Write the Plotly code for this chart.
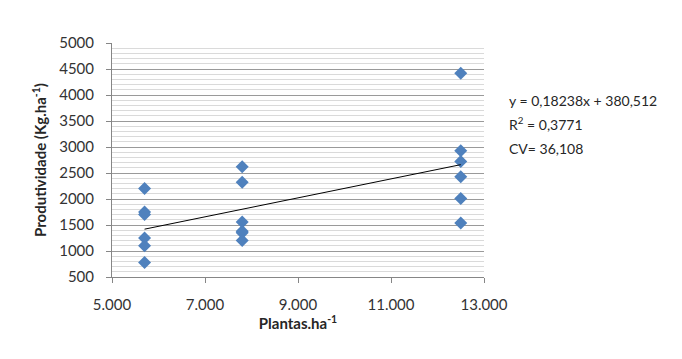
import plotly.graph_objects as go

plantas = [5700]*6 + [7800]*6 + [12500]*6
produtividade = [2200, 1750, 1700, 1250, 1100, 780,
                 2620, 2320, 1560, 1380, 1350, 1200,
                 4420, 2930, 2720, 2430, 2010, 1540]
slope = 0.18238
intercept = 380.512
eq_lines = ["y = 0,18238x + 380,512", "R<sup>2</sup> = 0,3771", "CV= 36,108"]
x_ticks = [5000, 7000, 9000, 11000, 13000]
x_ticktext = ["5.000", "7.000", "9.000", "11.000", "13.000"]

font = "Lato, 'Open Sans', sans-serif"

fig = go.Figure()
fig.add_trace(go.Scatter(
    x=plantas, y=produtividade, mode="markers",
    marker=dict(symbol="diamond", size=10, color="#4F81BD",
                line=dict(width=0)),
    showlegend=False))
xmin, xmax = min(plantas), max(plantas)
fig.add_trace(go.Scatter(
    x=[xmin, xmax], y=[slope*xmin + intercept, slope*xmax + intercept],
    mode="lines", line=dict(color="black", width=1), showlegend=False))

ys = [0.756, 0.654, 0.551]
for t, yy in zip(eq_lines, ys):
    fig.add_annotation(text=t, xref="paper", yref="paper",
                       x=1.062, y=yy, xanchor="left", yanchor="middle",
                       showarrow=False, font=dict(family=font, size=14, color="#262626"))

fig.update_layout(
    width=682, height=359,
    margin=dict(l=112, r=198, t=43, b=82),
    paper_bgcolor="white", plot_bgcolor="white",
    font=dict(family=font, size=15, color="#333"),
    xaxis=dict(range=[5000, 13000], tickvals=x_ticks, ticktext=x_ticktext,
               showgrid=False, zeroline=False, showline=True, linecolor="#868686",
               ticks="outside", ticklen=5, tickcolor="#868686", automargin=False,
               ticklabelstandoff=9,
               title=dict(text="<b>Plantas.ha<sup>-1</sup></b>", standoff=4,
                          font=dict(size=15, color="#262626"))),
    yaxis=dict(range=[500, 5000], dtick=500, tick0=500,
               showgrid=True, gridcolor="#9a9a9a", gridwidth=1,
               zeroline=False, showline=True, linecolor="#868686",
               ticks="outside", ticklen=5, tickcolor="#868686", automargin=False,
               ticklabelstandoff=9,
               minor=dict(dtick=100, showgrid=True, gridcolor="#dadada", gridwidth=1),
               title=dict(text="<b>Produtividade (Kg.ha<sup>-1</sup>)</b>", standoff=8,
                          font=dict(size=15, color="#262626"))),
)
fig.write_html("out.html", config={"displayModeBar": False},
               post_script="document.body.style.margin='0';")
